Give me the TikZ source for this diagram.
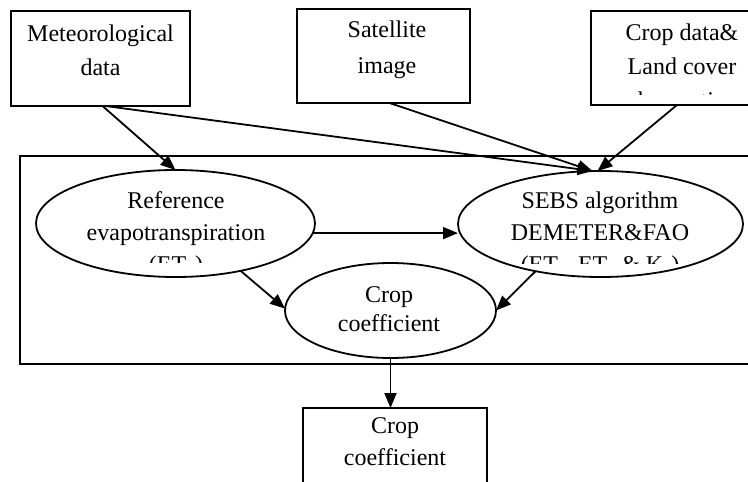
\documentclass[tikz,border=0pt]{standalone}
\usepackage{fontspec}
\setmainfont{Liberation Serif}
\usetikzlibrary{arrows.meta,shapes.geometric}
\begin{document}
\begin{tikzpicture}[x=1pt,y=-1pt,
  every node/.style={font=\fontsize{24}{28}\selectfont, inner sep=0pt, outer sep=0pt},
  box/.style={draw, line width=1.8pt, rectangle},
  oval/.style={draw, line width=1.8pt, ellipse},
  frame/.style={draw, line width=1.8pt, rectangle},
  link/.style={line width=1.8pt, -{Triangle[length=15pt,width=12pt]}},
  txt/.style={anchor=base}]
\useasboundingbox (0,0) rectangle (748,482);
\clip (0,0) rectangle (748,482);

% outer frame around the processing steps
\node[frame, minimum width=780pt, minimum height=208pt] (group) at (410,260) {};

% input boxes
\node[box, minimum width=179pt, minimum height=95pt] (met)   at (100.5,58.5) {};
\node[box, minimum width=173pt, minimum height=94pt] (sat)   at (383.5,56) {};
\node[box, minimum width=172pt, minimum height=94pt] (cropd) at (677,58) {};

% processing ellipses
\node[oval, minimum width=279pt, minimum height=107pt] (ref)  at (175.5,223.5) {};
\node[oval, minimum width=285pt, minimum height=106pt] (sebs) at (600.5,224) {};
\node[oval, minimum width=211pt, minimum height=95pt]  (crop) at (390.5,310.5) {};

% output box
\node[box, minimum width=184pt, minimum height=112pt] (out) at (395,464) {};

% labels
\node[txt] (metA) at (100.5,41) {Meteorological};
\node[txt] (metB) at (100.5,75) {data};
\node[txt] (satA) at (387,37) {Satellite};
\node[txt] (satB) at (387,73) {image};
\node[txt] (cdA) at (682,40) {Crop data\&};
\node[txt] (cdB) at (682,74) {Land cover};
\begin{scope}
  \clip (591,0) rectangle (748,94);
  \node[txt] (cdC) at (682,108) {observation};
\end{scope}
\node[txt] (refA) at (176,208) {Reference};
\node[txt] (refB) at (176,240) {evapotranspiration};
\begin{scope}
  \clip (40,0) rectangle (310,262);
  \node[txt] (refC) at (176,272) {(ET\textsubscript{0})};
\end{scope}
\node[txt] (sebsA) at (600,208) {SEBS algorithm};
\node[txt] (sebsB) at (600,240) {DEMETER\&FAO};
\begin{scope}
  \clip (460,0) rectangle (740,263);
  \node[txt] (sebsC) at (600,272) {(ET\textsubscript{a}, ET\textsubscript{c} \& K\textsubscript{c})};
\end{scope}
\node[txt] (cropA) at (389,302) {Crop};
\node[txt] (cropB) at (389,331) {coefficient};
\node[txt] (outA) at (395,433) {Crop};
\node[txt] (outB) at (395,465) {coefficient};

% connectors
\draw[link] ([xshift=2pt]met.south) -- (ref.north);
\draw[link] ([xshift=5pt]met.south) -- ([xshift=-8pt]sebs.north);
\draw[link] ([xshift=6pt]sat.south) -- ([xshift=-8pt]sebs.north);
\draw[link] (cropd.south) -- ([xshift=-3pt]sebs.north);
\draw[link] (ref.-4) -- (sebs.west |- ref.-4);
\draw[link] (ref.-36) -- (crop.179);
\draw[link] (sebs.216) -- (crop.east);
\draw[link] (crop.south) -- (crop.south |- out.north);
\end{tikzpicture}
\end{document}
